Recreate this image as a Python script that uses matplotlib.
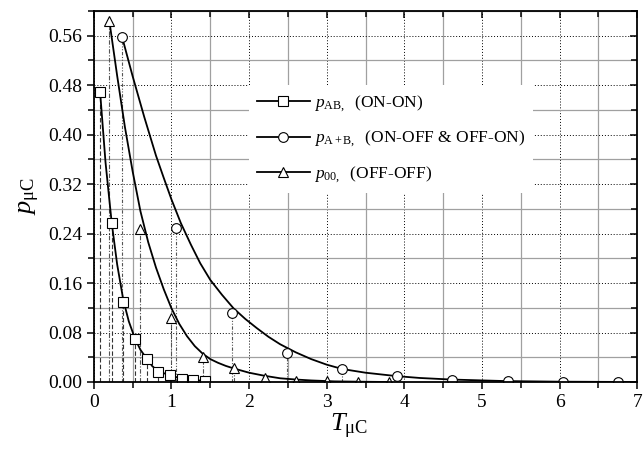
import matplotlib
matplotlib.use('Agg')
import matplotlib.pyplot as plt
from matplotlib.ticker import MultipleLocator

plt.rcParams['font.family'] = ['Liberation Serif', 'DejaVu Serif']
plt.rcParams['mathtext.fontset'] = 'custom'
plt.rcParams['mathtext.rm'] = 'Liberation Serif'
plt.rcParams['mathtext.it'] = 'Liberation Serif:italic'

# measured points
t_ab = [0.08, 0.23, 0.38, 0.53, 0.68, 0.83, 0.98, 1.13, 1.28, 1.43]
p_ab = [0.469, 0.257, 0.130, 0.070, 0.037, 0.016, 0.012, 0.005, 0.003, 0.002]

t_apb = [0.36, 1.06, 1.78, 2.49, 3.20, 3.91, 4.62, 5.33, 6.04, 6.75]
p_apb = [0.557, 0.249, 0.112, 0.047, 0.021, 0.010, 0.003, 0.001, 0.0, 0.0]

t_00 = [0.20, 0.60, 1.00, 1.40, 1.80, 2.20, 2.60, 3.00, 3.40, 3.80]
p_00 = [0.583, 0.248, 0.104, 0.040, 0.022, 0.007, 0.002, 0.001, 0.0, 0.0]

# fitted curves
ct_ab = [0.08, 0.15, 0.23, 0.30, 0.38, 0.45, 0.53, 0.60, 0.68, 0.75, 0.83, 0.98, 1.13, 1.28, 1.43]
cp_ab = [0.469, 0.355, 0.257, 0.190, 0.132, 0.098, 0.070, 0.052, 0.038, 0.026, 0.017, 0.011, 0.005, 0.003, 0.002]

ct_apb = [0.365, 0.5, 0.65, 0.8, 0.9, 1.0, 1.12, 1.25, 1.37, 1.5, 1.65, 1.8, 1.95, 2.1, 2.25,
          2.4, 2.6, 2.8, 3.0, 3.2, 3.5, 3.9, 4.2, 4.6, 5.3, 6.0, 7.0]
cp_apb = [0.557, 0.494, 0.428, 0.366, 0.330, 0.295, 0.257, 0.222, 0.192, 0.165, 0.141, 0.119,
          0.102, 0.087, 0.073, 0.061, 0.048, 0.037, 0.028, 0.021, 0.015, 0.0095, 0.0065, 0.004, 0.0015,
          0.0005, 0.0]

ct_00 = [0.20, 0.30, 0.40, 0.50, 0.60, 0.70, 0.80, 0.90, 1.0, 1.1, 1.2, 1.3, 1.4, 1.5, 1.6, 1.7,
         1.8, 2.0, 2.2, 2.4, 2.6, 2.8, 3.1, 3.4, 3.8]
cp_00 = [0.583, 0.495, 0.412, 0.340, 0.276, 0.226, 0.185, 0.150, 0.119, 0.094, 0.074, 0.058,
         0.046, 0.037, 0.031, 0.026, 0.022, 0.015, 0.010, 0.006, 0.004, 0.0025, 0.001, 0.0005, 0.0]

labels = [r'$p_{\mathrm{AB},}$  (ON-ON)',
          r'$p_{\mathrm{A+B},}$  (ON-OFF & OFF-ON)',
          r'$p_{\mathrm{00},}$  (OFF-OFF)']

fig = plt.figure(figsize=(6.43, 4.51), dpi=100)
ax = fig.add_axes([0.146, 0.153, 0.845, 0.823])

ax.set_xlim(0, 7)
ax.set_ylim(0, 0.60)
ax.xaxis.set_major_locator(MultipleLocator(1))
ax.xaxis.set_minor_locator(MultipleLocator(0.5))
ax.yaxis.set_major_locator(MultipleLocator(0.08))
ax.yaxis.set_minor_locator(MultipleLocator(0.04))
ax.yaxis.set_major_formatter(plt.FormatStrFormatter('%.2f'))

ax.grid(which='major', color='black', linestyle=(0, (1, 2)), linewidth=0.7)
ax.grid(which='minor', color='#a0a0a0', linestyle='-', linewidth=0.9)
ax.set_axisbelow(True)

# drop lines from each point to the axis
ax.vlines(t_ab, 0, p_ab, colors='#333333', linestyles=(0, (4, 2)), linewidth=0.8)
ax.vlines(t_00, 0, p_00, colors='#555555', linestyles=(0, (4, 1.5, 1, 1.5)), linewidth=0.8)
ax.vlines(t_apb, 0, p_apb, colors='#555555', linestyles=(0, (3, 1.5, 1, 1.5, 1, 1.5)), linewidth=0.8)

ax.plot(ct_ab, cp_ab, color='black', linewidth=1.3)
ax.plot(ct_apb, cp_apb, color='black', linewidth=1.3)
ax.plot(ct_00, cp_00, color='black', linewidth=1.3)

mk = dict(linestyle='none', markerfacecolor='white', markeredgecolor='black', markeredgewidth=0.8)
ax.plot(t_ab, p_ab, marker='s', markersize=6.5, **mk)
ax.plot(t_apb, p_apb, marker='o', markersize=7, **mk)
ax.plot(t_00, p_00, marker='^', markersize=7.5, **mk)

# legend proxies
h1, = ax.plot([], [], color='black', linewidth=1.3, marker='s', markersize=6.5,
              markerfacecolor='white', markeredgewidth=0.8)
h2, = ax.plot([], [], color='black', linewidth=1.3, marker='o', markersize=7,
              markerfacecolor='white', markeredgewidth=0.8)
h3, = ax.plot([], [], color='black', linewidth=1.3, marker='^', markersize=7.5,
              markerfacecolor='white', markeredgewidth=0.8)
leg = ax.legend([h1, h2, h3], labels, loc='upper left', bbox_to_anchor=(0.285, 0.80),
                frameon=True, fancybox=False, facecolor='white', edgecolor='none',
                framealpha=1, fontsize=12.5, handlelength=3.1, handletextpad=0.2,
                labelspacing=0.85, borderpad=0.45, borderaxespad=0)

for s in ax.spines.values():
    s.set_linewidth(1.3)

ax.tick_params(axis='both', which='both', labelsize=14, width=1.1)
ax.tick_params(axis='both', which='major', length=5)
ax.tick_params(axis='both', which='minor', length=4)
ax.tick_params(top=True, right=True, which='both')
ax.tick_params(axis='x', which='both', direction='out')
ax.tick_params(axis='y', which='both', direction='out')
for t in ax.xaxis.get_major_ticks() + ax.xaxis.get_minor_ticks():
    t.tick2line.set_marker(3)
for t in ax.yaxis.get_major_ticks() + ax.yaxis.get_minor_ticks():
    t.tick2line.set_marker(0)

ax.set_xlabel(r'$T_{\mathrm{μC}}$', fontsize=19, labelpad=0)
ax.set_ylabel(r'$p_{\mathrm{μC}}$', fontsize=19, labelpad=4)
ax.xaxis.set_label_coords(0.47, -0.08)

fig.savefig('out.png', dpi=100)
